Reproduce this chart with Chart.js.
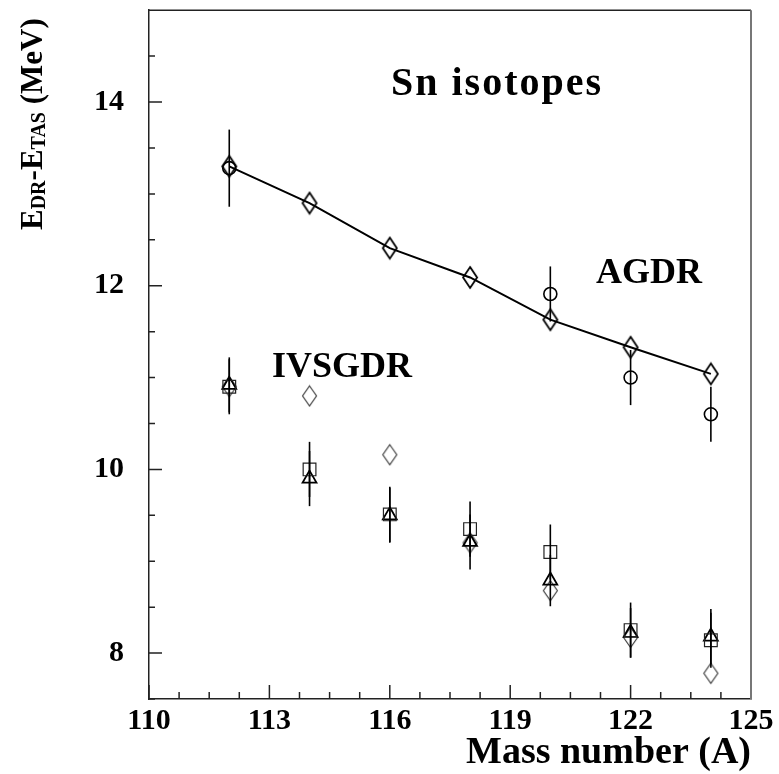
<!DOCTYPE html>
<html>
<head>
<meta charset="utf-8">
<title>Sn isotopes</title>
<script src="https://cdn.jsdelivr.net/npm/chart.js@4.4.1/dist/chart.umd.min.js"></script>
<style>
  html, body { margin: 0; padding: 0; background: #fff; }
  canvas { display: block; }
</style>
</head>
<body>
<canvas id="sn-chart" width="779" height="774"></canvas>
<script>
// mass numbers
const massAll = [112, 114, 116, 118, 120, 122, 124];
const massAgdrExp = [112, 120, 122, 124];

// AGDR: calculation (joined by a line) and measured points
const agdrCalc = [13.30, 12.90, 12.41, 12.09, 11.63, 11.33, 11.04];
const agdrExp = [13.28, 11.91, 11.00, 10.60];
const agdrExpErr = [0.42, 0.30, 0.30, 0.30];

// IVSGDR
const ivsSquare = [10.90, 10.00, 9.51, 9.35, 9.10, 8.25, 8.14];
const ivsSquareErr = [0.30, 0.30, 0.30, 0.30, 0.30, 0.30, 0.30];
const ivsTriangle = [10.92, 9.90, 9.50, 9.21, 8.79, 8.22, 8.18];
const ivsTriangleErr = [0.30, 0.30, 0.30, 0.30, 0.28, 0.27, 0.30];
const ivsDiamond = [10.90, 10.80, 10.16, 9.20, 8.68, 8.17, 7.78];

// axes
const xTickLabels = [110, 113, 116, 119, 122, 125];
const yTickLabels = [8, 10, 12, 14];
const xMinorStep = 0.75;
const yMinorStep = 0.5;

const FONT = '"Liberation Serif", "Times New Roman", serif';

const pts = (xs, ys) => xs.map((x, i) => ({ x: x, y: ys[i] }));
const isIn = (list, v) => list.some(m => Math.abs(m - v) < 1e-6);

function diamondMarker(w, h, lw, color) {
  let c = document.createElement('canvas');
  c.width = Math.ceil(w + lw * 2);
  c.height = Math.ceil(h + lw * 2);
  let g = c.getContext('2d');
  let cx = c.width / 2, cy = c.height / 2;
  g.strokeStyle = color;
  g.lineWidth = lw;
  g.beginPath();
  g.moveTo(cx, cy - h / 2);
  g.lineTo(cx + w / 2, cy);
  g.lineTo(cx, cy + h / 2);
  g.lineTo(cx - w / 2, cy);
  g.closePath();
  g.stroke();
  return c;
}

function stepTicks(scale, step, majors) {
  let list = [];
  for (let v = scale.min; v <= scale.max + 1e-9; v += step) {
    list.push({ value: v, major: isIn(majors, v) });
  }
  scale.ticks = list;
}

// no extra room for half labels at the axis ends
function fixBox(scale, size) {
  if (scale.isHorizontal()) scale.height = size;
  else scale.width = size;
  scale.paddingTop = 0;
  scale.paddingBottom = 0;
  scale.paddingLeft = 0;
  scale.paddingRight = 0;
}

// vertical error bars for datasets carrying an `errors` array
const errorBars = {
  id: 'errorBars',
  afterDatasetsDraw(chart) {
    let ctx = chart.ctx;
    let yScale = chart.scales.y;
    ctx.save();
    ctx.strokeStyle = '#000';
    ctx.lineWidth = 1.6;
    chart.data.datasets.forEach((ds, di) => {
      if (!ds.errors) return;
      let meta = chart.getDatasetMeta(di);
      ds.data.forEach((p, i) => {
        let el = meta.data[i];
        ctx.beginPath();
        ctx.moveTo(el.x, yScale.getPixelForValue(p.y + ds.errors[i]));
        ctx.lineTo(el.x, yScale.getPixelForValue(p.y - ds.errors[i]));
        ctx.stroke();
      });
    });
    ctx.restore();
  }
};

// inward tick marks, frame, labels and the y title with subscripts
const decorations = {
  id: 'decorations',
  afterDraw(chart) {
    let ctx = chart.ctx;
    let a = chart.chartArea;
    let x = chart.scales.x, y = chart.scales.y;
    ctx.save();

    ctx.strokeStyle = '#222';
    ctx.lineWidth = 1.5;
    ctx.beginPath();
    x.ticks.forEach(t => {
      let px = x.getPixelForValue(t.value);
      let len = isIn(xTickLabels, t.value) ? 14 : 7;
      ctx.moveTo(px, a.bottom);
      ctx.lineTo(px, a.bottom - len);
    });
    y.ticks.forEach(t => {
      let py = y.getPixelForValue(t.value);
      let len = isIn(yTickLabels, t.value) ? 13 : 6;
      ctx.moveTo(a.left, py);
      ctx.lineTo(a.left + len, py);
    });
    ctx.moveTo(a.left, a.top);
    ctx.lineTo(a.right, a.top);
    ctx.stroke();

    ctx.strokeStyle = '#777';
    ctx.lineWidth = 2;
    ctx.beginPath();
    ctx.moveTo(a.right, a.top);
    ctx.lineTo(a.right, a.bottom);
    ctx.stroke();

    ctx.fillStyle = '#000';
    ctx.textAlign = 'left';
    ctx.textBaseline = 'alphabetic';
    ctx.font = 'bold 40px ' + FONT;
    ctx.letterSpacing = '2px';
    ctx.fillText('Sn isotopes', 391, 95);
    ctx.letterSpacing = '0px';
    ctx.font = 'bold 36px ' + FONT;
    ctx.fillText('AGDR', 596, 283);
    ctx.fillText('IVSGDR', 272, 377);

    // y title: E_DR-E_TAS (MeV)
    ctx.translate(42, 230);
    ctx.rotate(-Math.PI / 2);
    let parts = [
      ['E', false], ['DR', true], ['-E', false], ['TAS', true], [' (MeV)', false]
    ];
    let cx = 0;
    parts.forEach(([txt, sub]) => {
      ctx.font = sub ? 'bold 20px ' + FONT : 'bold 31px ' + FONT;
      ctx.fillText(txt, cx, sub ? 3 : 0);
      cx += ctx.measureText(txt).width;
    });
    ctx.restore();
  }
};

const datasets = [
  {
    label: 'AGDR calc',
    data: pts(massAll, agdrCalc),
    showLine: true,
    borderColor: '#000',
    borderWidth: 2,
    tension: 0,
    pointStyle: diamondMarker(14, 21, 1.8, '#000'),
    pointRadius: 8
  },
  {
    label: 'AGDR exp',
    data: pts(massAgdrExp, agdrExp),
    errors: agdrExpErr,
    pointStyle: 'circle',
    pointRadius: 6.5,
    borderColor: '#000',
    borderWidth: 1.6,
    backgroundColor: 'rgba(0,0,0,0)'
  },
  {
    label: 'IVSGDR square',
    data: pts(massAll, ivsSquare),
    errors: ivsSquareErr,
    pointStyle: 'rect',
    pointRadius: 9,
    borderColor: '#222',
    borderWidth: 1.2,
    backgroundColor: 'rgba(0,0,0,0)'
  },
  {
    label: 'IVSGDR triangle',
    data: pts(massAll, ivsTriangle),
    errors: ivsTriangleErr,
    pointStyle: 'triangle',
    pointRadius: 8,
    borderColor: '#000',
    borderWidth: 1.8,
    backgroundColor: 'rgba(0,0,0,0)'
  },
  {
    label: 'IVSGDR diamond',
    data: pts(massAll, ivsDiamond),
    pointStyle: diamondMarker(14, 20, 1.1, '#333'),
    pointRadius: 8
  }
];

let chart = new Chart(document.getElementById('sn-chart'), {
  type: 'scatter',
  data: { datasets: datasets },
  options: {
    responsive: false,
    animation: false,
    devicePixelRatio: 1,
    layout: { padding: { top: 9, right: 28, left: 0, bottom: 0 } },
    plugins: {
      legend: { display: false },
      tooltip: { enabled: false }
    },
    scales: {
      x: {
        type: 'linear',
        min: 110,
        max: 125,
        afterBuildTicks: s => stepTicks(s, xMinorStep, xTickLabels),
        afterFit: s => fixBox(s, 75),
        grid: { display: false, drawTicks: false },
        border: { display: true, color: '#222', width: 1.5 },
        ticks: {
          autoSkip: false,
          maxRotation: 0,
          minRotation: 0,
          padding: 4,
          color: '#000',
          font: { family: FONT, size: 30, weight: 'bold' },
          callback: v => isIn(xTickLabels, v) ? String(v) : ''
        },
        title: {
          display: true,
          text: 'Mass number (A)',
          align: 'end',
          color: '#000',
          font: { family: FONT, size: 38, weight: 'bold', lineHeight: 1 },
          padding: { top: 0, bottom: 2 }
        }
      },
      y: {
        type: 'linear',
        min: 7.5,
        max: 15,
        afterBuildTicks: s => stepTicks(s, yMinorStep, yTickLabels),
        afterFit: s => fixBox(s, 149),
        grid: { display: false, drawTicks: false },
        border: { display: true, color: '#222', width: 1.5 },
        ticks: {
          autoSkip: false,
          padding: 25,
          color: '#000',
          font: { family: FONT, size: 30, weight: 'bold' },
          callback: v => isIn(yTickLabels, v) ? String(v) : ''
        }
      }
    }
  },
  plugins: [errorBars, decorations]
});
</script>
</body>
</html>
